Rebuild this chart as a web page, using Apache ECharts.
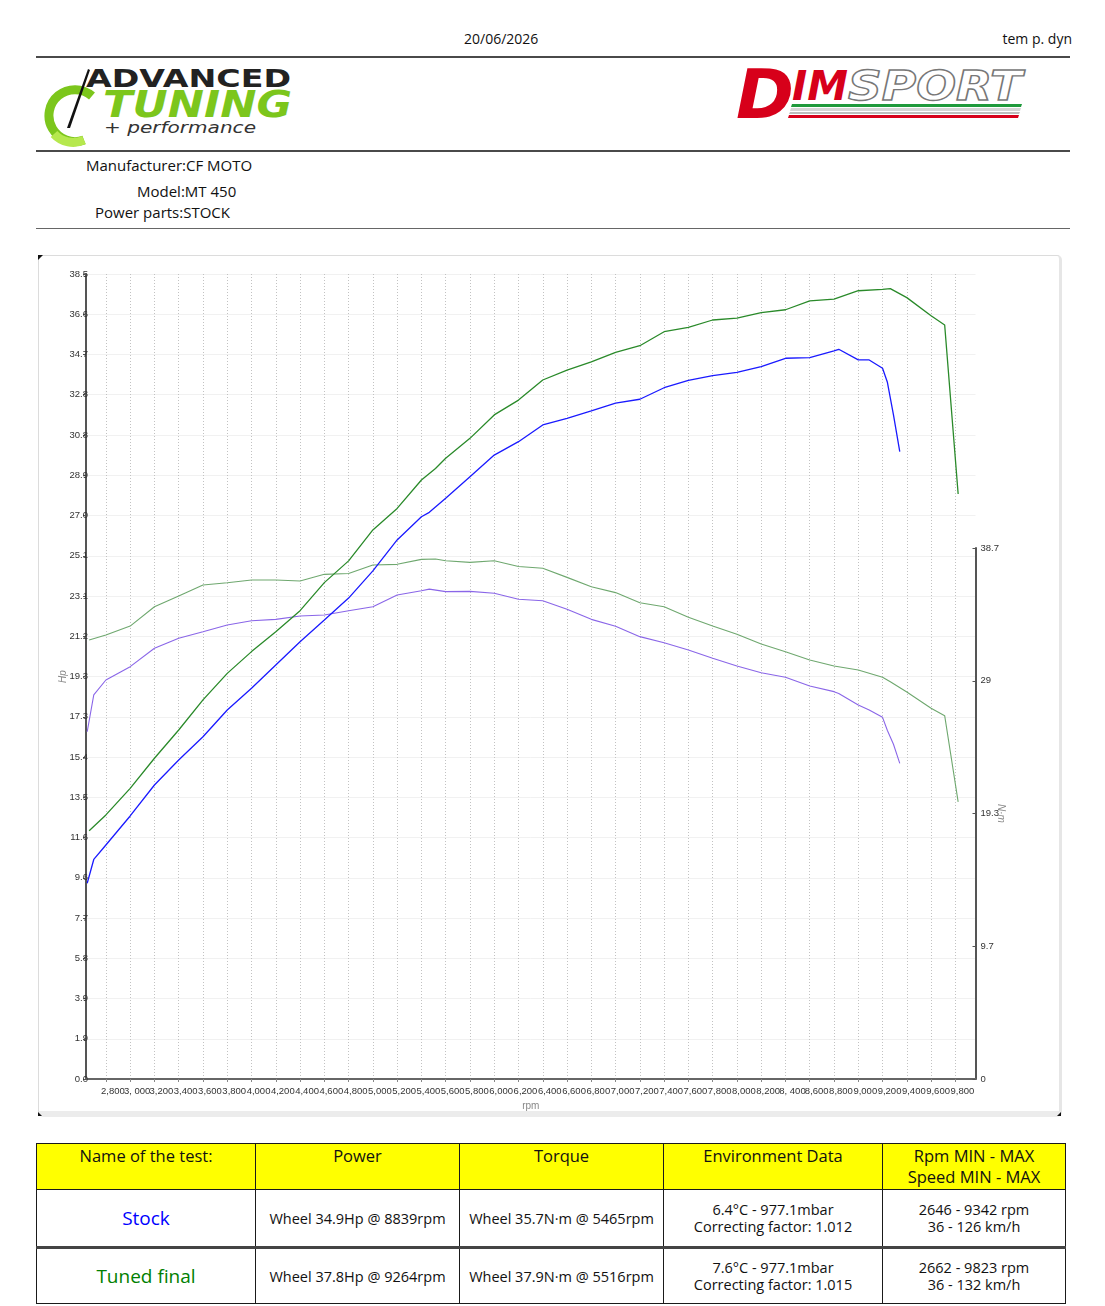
<!DOCTYPE html>
<html>
<head>
<meta charset="utf-8">
<title>Dyno report</title>
<script src="https://cdn.jsdelivr.net/npm/echarts@6.0.0/dist/echarts.min.js"></script>
<style>
	body { margin:0; width:1105px; height:1306px; position:relative; background:#fff; font-family:"Open Sans", sans-serif; color:#111; overflow:hidden; }
	.t { position:absolute; white-space:nowrap; font-size:14px; line-height:18px; }
	.rule { position:absolute; left:36px; width:1034px; background:#4a4a4a; }
	#frame { position:absolute; left:38px; top:255px; width:1024px; height:862px; box-sizing:border-box;
		border:1px solid #dcdcdc; border-right:3px solid #e6e6e6; border-bottom:6px solid #ececec; border-radius:5px; }
	#chart { position:absolute; left:38px; top:255px; width:1024px; height:862px; }
	table.res { position:absolute; left:36px; top:1143px; width:1029px; border-collapse:collapse; table-layout:fixed; font-size:14.5px; }
	table.res td { border:1.5px solid #1a1a1a; text-align:center; padding:0; line-height:17px; }
	table.res tr.hd td { background:#ffff00; vertical-align:top; padding-top:1px; height:44px; font-size:16.5px; line-height:21px; }
	table.res tr.r1 td { height:56px; }
	table.res tr.r2 td { height:54px; border-top:3px solid #444; }
	.name { font-size:19px; }
</style>
</head>
<body>

<!-- header -->
<div class="t" style="left:464px; top:30px;">20/06/2026</div>
<div class="t" style="right:33px; top:30px;">tem p. dyn</div>
<div class="rule" style="top:56px; height:2px;"></div>

<!-- left logo -->
<svg class="t" style="left:40px; top:62px;" width="270" height="86">
	<path d="M 52 34 A 26 26 0 1 0 44 78" fill="none" stroke="#7cc61c" stroke-width="9"/>
	<path d="M 14 72 A 26 26 0 0 0 44 78" fill="none" stroke="#b6e84e" stroke-width="9"/>
	<polygon points="27,66 30,66 50,8 48,7" fill="#111"/>
	<text x="46" y="25" font-family="DejaVu Sans" font-weight="900" font-size="24" fill="#222" textLength="205" lengthAdjust="spacingAndGlyphs">ADVANCED</text>
	<text x="63" y="55" font-family="DejaVu Sans" font-weight="900" font-style="italic" font-size="37" fill="#7cc61c" textLength="189" lengthAdjust="spacingAndGlyphs">TUNING</text>
	<text x="64" y="71" font-family="DejaVu Sans" font-style="italic" font-size="16" fill="#333" textLength="152" lengthAdjust="spacingAndGlyphs">+ performance</text>
</svg>

<!-- right logo -->
<svg class="t" style="left:730px; top:60px;" width="300" height="64">
	<polygon points="62,44 292,44 291,47 61,47" fill="#1f9a3c"/>
	<polygon points="61,48 291,48 290,51 60,51" fill="#d5d5d5"/>
	<polygon points="60,52 290,52 289,54 59,54" fill="#bdbdbd"/>
	<polygon points="59,55 289,55 288,58 58,58" fill="#d7001a"/>
	<text x="6" y="58" font-family="DejaVu Sans" font-weight="900" font-style="italic" font-size="68" fill="#d7001a" textLength="58" lengthAdjust="spacingAndGlyphs">D</text>
	<text x="62" y="40" font-family="DejaVu Sans" font-weight="900" font-style="italic" font-size="40" fill="#d7001a" textLength="56" lengthAdjust="spacingAndGlyphs">IM</text>
	<text x="118" y="40" font-family="DejaVu Sans" font-weight="900" font-style="italic" font-size="40" fill="#fff" stroke="#777" stroke-width="1.4" textLength="174" lengthAdjust="spacingAndGlyphs">SPORT</text>
</svg>

<div class="rule" style="top:150px; height:2px;"></div>
<div class="t" style="left:86px; top:156px; font-size:15px;">Manufacturer:CF MOTO</div>
<div class="t" style="left:137px; top:182px; font-size:15px;">Model:MT 450</div>
<div class="t" style="left:95px; top:203px; font-size:15px;">Power parts:STOCK</div>
<div class="rule" style="top:228px; height:1px; background:#666;"></div>

<div id="frame"></div>
<div id="chart"></div>

<table class="res">
	<colgroup><col style="width:219px"><col style="width:204px"><col style="width:204px"><col style="width:219px"><col style="width:183px"></colgroup>
	<tr class="hd"><td>Name of the test:</td><td>Power</td><td>Torque</td><td>Environment Data</td><td>Rpm MIN - MAX<br>Speed MIN - MAX</td></tr>
	<tr class="r1"><td class="name" style="color:#0000ff;">Stock</td><td>Wheel 34.9Hp @ 8839rpm</td><td>Wheel 35.7N·m @ 5465rpm</td><td>6.4°C - 977.1mbar<br>Correcting factor: 1.012</td><td>2646 - 9342 rpm<br>36 - 126 km/h</td></tr>
	<tr class="r2"><td class="name" style="color:#008000;">Tuned final</td><td>Wheel 37.8Hp @ 9264rpm</td><td>Wheel 37.9N·m @ 5516rpm</td><td>7.6°C - 977.1mbar<br>Correcting factor: 1.015</td><td>2662 - 9823 rpm<br>36 - 132 km/h</td></tr>
</table>

<script type="text/javascript">
	// stock run
	var stockRpm    = [2646, 2700, 2800, 3000, 3200, 3400, 3600, 3800, 4000, 4200, 4400, 4600, 4800, 5000, 5200, 5400, 5465, 5600, 5800, 6000, 6200, 6400, 6600, 6800, 7000, 7200, 7400, 7600, 7800, 8000, 8200, 8400, 8600, 8800, 8839, 9000, 9090, 9200, 9240, 9290, 9342];
	var stockPower  = [9.36, 10.5, 11.19, 12.58, 14.06, 15.26, 16.37, 17.65, 18.69, 19.8, 20.91, 21.95, 23.0, 24.3, 25.78, 26.89, 27.1, 27.77, 28.8, 29.84, 30.48, 31.28, 31.6, 31.95, 32.32, 32.51, 33.06, 33.41, 33.64, 33.8, 34.07, 34.47, 34.5, 34.82, 34.9, 34.39, 34.39, 33.99, 33.32, 31.76, 30.0];
	var stockTorque = [25.31, 28.0, 29.08, 30.05, 31.39, 32.12, 32.6, 33.09, 33.4, 33.5, 33.74, 33.82, 34.13, 34.42, 35.27, 35.59, 35.7, 35.52, 35.54, 35.4, 34.96, 34.86, 34.23, 33.5, 33.0, 32.24, 31.8, 31.27, 30.66, 30.1, 29.61, 29.28, 28.64, 28.23, 28.1, 27.26, 26.9, 26.36, 25.4, 24.4, 23.0];

	// tuned run
	var tunedRpm    = [2662, 2800, 3000, 3200, 3400, 3600, 3800, 4000, 4200, 4400, 4600, 4800, 5000, 5200, 5400, 5516, 5600, 5800, 6000, 6200, 6400, 6600, 6800, 7000, 7200, 7400, 7600, 7800, 8000, 8200, 8400, 8600, 8800, 9000, 9200, 9264, 9400, 9600, 9712, 9823];
	var tunedPower  = [11.87, 12.63, 13.9, 15.34, 16.69, 18.13, 19.4, 20.44, 21.39, 22.4, 23.74, 24.78, 26.26, 27.29, 28.65, 29.2, 29.69, 30.64, 31.76, 32.47, 33.43, 33.9, 34.3, 34.75, 35.07, 35.74, 35.95, 36.3, 36.39, 36.65, 36.79, 37.21, 37.3, 37.7, 37.76, 37.8, 37.37, 36.5, 36.06, 27.98];
	var tunedTorque = [32.0, 32.36, 33.01, 34.42, 35.2, 36.0, 36.17, 36.37, 36.37, 36.3, 36.78, 36.84, 37.46, 37.51, 37.87, 37.9, 37.77, 37.65, 37.77, 37.35, 37.22, 36.56, 35.88, 35.45, 34.71, 34.42, 33.65, 33.01, 32.41, 31.7, 31.14, 30.54, 30.1, 29.81, 29.28, 28.95, 28.2, 27.02, 26.48, 20.2];

	// axes
	var rpmTicks      = [2800, 3000, 3200, 3400, 3600, 3800, 4000, 4200, 4400, 4600, 4800, 5000, 5200, 5400, 5600, 5800, 6000, 6200, 6400, 6600, 6800, 7000, 7200, 7400, 7600, 7800, 8000, 8200, 8400, 8600, 8800, 9000, 9200, 9400, 9600, 9800];
	var rpmTickLabels = ['2,800', '3, 000', '3,200', '3,400', '3,600', '3,800', '4,000', '4,200', '4,400', '4,600', '4,800', '5,000', '5,200', '5,400', '5,600', '5,800', '6,000', '6,200', '6,400', '6,600', '6,800', '7,000', '7,200', '7,400', '7,600', '7,800', '8,000', '8,200', '8, 400', '8,600', '8,800', '9,000', '9,200', '9,400', '9,600', '9,800'];
	var hpTickLabels  = ['0.0', '1.9', '3.9', '5.8', '7.7', '9.6', '11.6', '13.5', '15.4', '17.3', '19.3', '21.2', '23.1', '25.1', '27.0', '28.9', '30.8', '32.8', '34.7', '36.6', '38.5'];
	var nmTickLabels  = ['0', '9.7', '19.3', '29', '38.7'];

	function pairs(xs, ys) {
		return xs.map(function (x, i) { return [x, ys[i]]; });
	}
	// labels overlap each other in the original, so they are split over two axes
	var evenTicks = rpmTicks.filter(function (v, i) { return i % 2 === 0; });
	var oddTicks  = rpmTicks.filter(function (v, i) { return i % 2 === 1; });
	function rpmLabel(v) { return rpmTickLabels[rpmTicks.indexOf(v)]; }

	var lblStyle = { color: '#333', fontSize: 9.5, margin: 7, padding: [0, 0, 0, 14],
		showMinLabel: true, showMaxLabel: true, hideOverlap: false, formatter: rpmLabel };

	var option = {
		animation: false,
		textStyle: { fontFamily: 'Liberation Sans' },
		grid: [
			{ left: 48, right: 86.5, top: 19, bottom: 38 },
			{ left: 48, right: 86.5, top: 293, bottom: 38 }
		],
		xAxis: [
			{
				type: 'value', gridIndex: 0, min: 2636, max: 9966,
				name: 'rpm', nameLocation: 'middle', nameGap: 22, nameMoveOverlap: false,
				nameTextStyle: { color: '#888', fontSize: 10 },
				axisLine: { lineStyle: { color: '#666', width: 2 } },
				axisTick: { show: true, length: 3, customValues: rpmTicks, lineStyle: { color: '#888' } },
				axisLabel: Object.assign({ customValues: evenTicks }, lblStyle),
				splitLine: { show: true, lineStyle: { color: '#c2c2c2', type: [1, 2], width: 1 } }
			},
			{ type: 'value', gridIndex: 1, min: 2636, max: 9966, show: false },
			{
				type: 'value', gridIndex: 0, position: 'bottom', min: 2636, max: 9966,
				axisLine: { show: false }, axisTick: { show: false }, splitLine: { show: false },
				axisLabel: Object.assign({ customValues: oddTicks }, lblStyle)
			}
		],
		yAxis: [
			{
				type: 'value', gridIndex: 0, min: 0, max: 38.5, interval: 1.925,
				name: 'Hp', nameLocation: 'middle', nameGap: 18, nameMoveOverlap: false,
				nameTextStyle: { color: '#888', fontSize: 10, fontStyle: 'italic' },
				axisLine: { show: true, lineStyle: { color: '#555', width: 2 } },
				axisTick: { show: true, length: 3, lineStyle: { color: '#555' } },
				axisLabel: {
					color: '#333', fontSize: 9.5, margin: -2,
					formatter: function (v) { return hpTickLabels[Math.round(v / 1.925)]; }
				},
				splitLine: { show: true, lineStyle: { color: '#f1f1f1' } }
			},
			{
				type: 'value', gridIndex: 1, position: 'right', min: 0, max: 38.7, interval: 9.675,
				name: 'N·m', nameLocation: 'middle', nameGap: 20, nameRotate: -90, nameMoveOverlap: false,
				nameTextStyle: { color: '#888', fontSize: 10, fontStyle: 'italic' },
				axisLine: { show: true, lineStyle: { color: '#555', width: 2 } },
				axisTick: { show: true, inside: true, length: 3, lineStyle: { color: '#555' } },
				axisLabel: {
					color: '#333', fontSize: 9.5, margin: 5,
					formatter: function (v) { return nmTickLabels[Math.round(v / 9.675)]; }
				},
				splitLine: { show: false }
			}
		],
		series: [
			{ name: 'Stock torque', type: 'line', xAxisIndex: 1, yAxisIndex: 1, showSymbol: false, z: 2,
			  data: pairs(stockRpm, stockTorque), lineStyle: { color: '#8a66e8', width: 1.1 } },
			{ name: 'Tuned torque', type: 'line', xAxisIndex: 1, yAxisIndex: 1, showSymbol: false, z: 2,
			  data: pairs(tunedRpm, tunedTorque), lineStyle: { color: '#6fa86f', width: 1.1 } },
			{ name: 'Stock power', type: 'line', xAxisIndex: 0, yAxisIndex: 0, showSymbol: false, z: 3,
			  data: pairs(stockRpm, stockPower), lineStyle: { color: '#1a1aff', width: 1.3 } },
			{ name: 'Tuned power', type: 'line', xAxisIndex: 0, yAxisIndex: 0, showSymbol: false, z: 3,
			  data: pairs(tunedRpm, tunedPower), lineStyle: { color: '#2a8a2a', width: 1.3 } }
		],
		graphic: [
			{ type: 'polygon', shape: { points: [[0, 0], [5, 0], [0, 5]] }, style: { fill: '#111' } },
			{ type: 'polygon', shape: { points: [[0, 857], [0, 861], [4, 861]] }, style: { fill: '#111' } },
			{ type: 'polygon', shape: { points: [[1023, 857], [1023, 861], [1019, 861]] }, style: { fill: '#111' } }
		]
	};

	var myChart = echarts.init(document.getElementById('chart'));
	myChart.setOption(option);
</script>
</body>
</html>
